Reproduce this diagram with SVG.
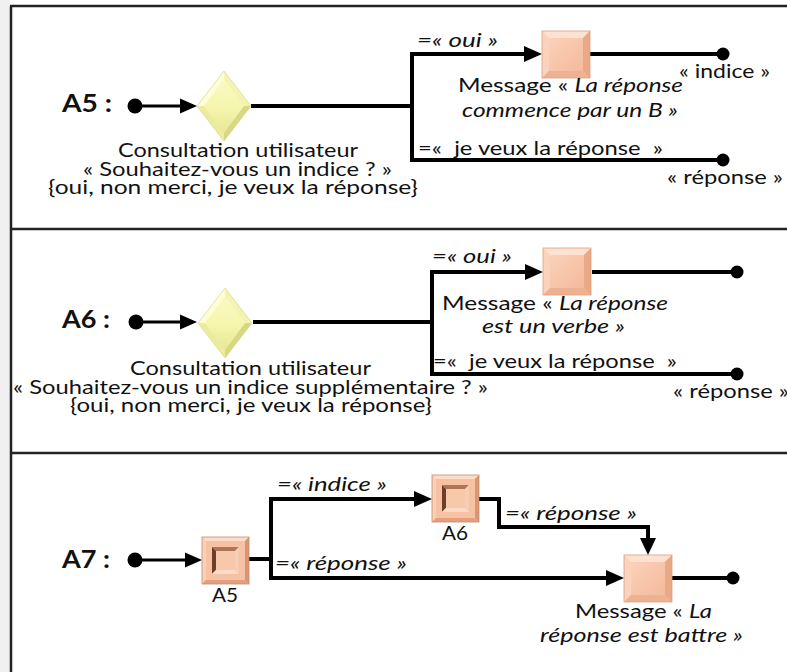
<svg xmlns="http://www.w3.org/2000/svg" width="787" height="672" viewBox="0 0 787 672">
<defs>
<linearGradient id="dg" x1="0" y1="0" x2="0" y2="1">
<stop offset="0" stop-color="#fbfbc6"/><stop offset="0.5" stop-color="#f6f6b0"/><stop offset="1" stop-color="#e4e48e"/>
</linearGradient>
<linearGradient id="pg" x1="0" y1="0" x2="1" y2="1">
<stop offset="0" stop-color="#fcd6c0"/><stop offset="1" stop-color="#f3b594"/>
</linearGradient>
<g id="diamond">
<polygon points="0,-35 27,0 0,35 -27,0" fill="url(#dg)"/>
<polygon points="0,-35 -27,0 -20,0 0,-27" fill="#fdfdd8"/>
<polygon points="0,-35 27,0 20,0 0,-27" fill="#f3f3b4"/>
<polygon points="-27,0 0,35 0,27 -20,0" fill="#ecec9e"/>
<polygon points="27,0 0,35 0,27 20,0" fill="#d8d884"/>
<polygon points="0,-35 27,0 0,35 -27,0" fill="none" stroke="#dcdc98" stroke-width="0.8"/>
</g>
<g id="msg">
<rect x="0" y="0" width="48" height="47" fill="url(#pg)"/>
<polygon points="0,0 48,0 41,7 7,7" fill="#fde2d2"/>
<polygon points="0,0 7,7 7,40 0,47" fill="#fbd3bc"/>
<polygon points="48,0 48,47 41,40 41,7" fill="#e9a987"/>
<polygon points="0,47 48,47 41,40 7,40" fill="#eeb293"/>
<rect x="0" y="0" width="48" height="47" fill="none" stroke="#dc9f80" stroke-width="0.8"/>
</g>
<g id="sub">
<rect x="0" y="0" width="47" height="47" fill="#f7c2a4"/>
<polygon points="0,0 47,0 43,4 4,4" fill="#fddcc8"/>
<polygon points="0,0 4,4 4,43 0,47" fill="#fad0b8"/>
<polygon points="47,0 47,47 43,43 43,4" fill="#d99575"/>
<polygon points="0,47 47,47 43,43 4,43" fill="#e3a07f"/>
<rect x="10" y="10" width="27" height="27" fill="#f5c0a2"/>
<polygon points="10,10 37,10 33,14 14,14" fill="#b07458"/>
<polygon points="10,10 14,14 14,33 10,37" fill="#6e3e28"/>
<polygon points="37,10 37,37 33,33 33,14" fill="#f7cdb4"/>
<polygon points="10,37 37,37 33,33 14,33" fill="#fbdac8"/>
<rect x="14" y="14" width="19" height="19" fill="#f8c8ab"/>
<rect x="0" y="0" width="47" height="47" fill="none" stroke="#c98b6c" stroke-width="0.8"/>
</g>
</defs>
<style>
.t{font-family:Lato,"Liberation Sans",sans-serif;font-size:20px;fill:#111;white-space:pre}
.i{font-style:italic}
.b{font-family:Lato,"Liberation Sans",sans-serif;font-size:24px;font-weight:bold;fill:#111}
.ln{fill:none;stroke:#000;stroke-width:4}
.ls{fill:none;stroke:#000;stroke-width:3}
</style>
<rect x="0" y="0" width="787" height="672" fill="#fff"/>
<rect x="0" y="0" width="10" height="672" fill="#f0f0f0"/>
<g id="frame" stroke="#222" stroke-width="2.5">
<line x1="11" y1="6" x2="11" y2="672"/>
<line x1="10" y1="6" x2="787" y2="6"/>
<line x1="10" y1="229" x2="787" y2="229"/>
<line x1="10" y1="453" x2="787" y2="453"/>
</g>

<g id="connectors">
<!-- A5 -->
<path class="ls" d="M135,106 H184"/>
<polygon points="180,98.5 197,106 180,113.5"/>
<path class="ln" d="M251,106 H412"/>
<path class="ln" d="M526,54 H412 V160 H723"/>
<polygon points="524,46 542,54 524,62"/>
<path class="ln" d="M590,54 H723"/>
<circle cx="135" cy="106" r="7.5"/>
<circle cx="723" cy="54" r="6.5"/>
<circle cx="723" cy="160" r="6.5"/>
<!-- A6 -->
<path class="ls" d="M136,322 H184"/>
<polygon points="180,314.5 197,322 180,329.5"/>
<path class="ln" d="M253,322 H432"/>
<path class="ln" d="M527,272 H432 V374 H737"/>
<polygon points="525,264 543,272 525,280"/>
<path class="ln" d="M592,272 H737"/>
<circle cx="136" cy="322" r="7.5"/>
<circle cx="737" cy="272" r="6.5"/>
<circle cx="737" cy="374" r="6.5"/>
<!-- A7 -->
<path class="ls" d="M135,560 H189"/>
<polygon points="185,552.5 202,560 185,567.5"/>
<path class="ln" d="M249,559 H271"/>
<path class="ln" d="M416,499 H271 V578 H608"/>
<polygon points="414,491 432,499 414,507"/>
<polygon points="606,570 624,578 606,586"/>
<path class="ln" d="M479,499 H499 V527 H648 V540"/>
<polygon points="640,538 648,555 656,538"/>
<path class="ln" d="M672,578 H733"/>
<circle cx="135" cy="560" r="7.5"/>
<circle cx="733" cy="578" r="6.5"/>
</g>

<g id="A5">
<text class="b" x="62" y="112" textLength="50" lengthAdjust="spacingAndGlyphs">A5 :</text>
<g id="A5-decision">
<use href="#diamond" x="224" y="106"/>
<text class="t" x="118" y="157" textLength="240" lengthAdjust="spacingAndGlyphs">Consultation utilisateur</text>
<text class="t" x="83" y="176" textLength="309" lengthAdjust="spacingAndGlyphs">« Souhaitez-vous un indice ? »</text>
<text class="t" x="48" y="194" textLength="370" lengthAdjust="spacingAndGlyphs">{oui, non merci, je veux la réponse}</text>
</g>
<g id="A5-message">
<use href="#msg" x="542" y="31"/>
<text class="t" x="458" y="92" textLength="225" lengthAdjust="spacingAndGlyphs">Message « <tspan class="i">La réponse</tspan></text>
<text class="t i" x="462" y="117" textLength="216" lengthAdjust="spacingAndGlyphs">commence par un B »</text>
</g>
<text class="t i" x="417" y="47" textLength="81" lengthAdjust="spacingAndGlyphs">=« oui »</text>
<text class="t" x="418" y="155" textLength="245" lengthAdjust="spacingAndGlyphs" xml:space="preserve">=«  je veux la réponse  »</text>
<text class="t" x="679" y="78" textLength="91" lengthAdjust="spacingAndGlyphs">« indice »</text>
<text class="t" x="667" y="184" textLength="116" lengthAdjust="spacingAndGlyphs">« réponse »</text>
</g>

<g id="A6">
<text class="b" x="62" y="328" textLength="48" lengthAdjust="spacingAndGlyphs">A6 :</text>
<g id="A6-decision">
<use href="#diamond" x="225" y="323"/>
<text class="t" x="130" y="375" textLength="241" lengthAdjust="spacingAndGlyphs">Consultation utilisateur</text>
<text class="t" x="13" y="394" textLength="475" lengthAdjust="spacingAndGlyphs">« Souhaitez-vous un indice supplémentaire ? »</text>
<text class="t" x="70" y="412" textLength="362" lengthAdjust="spacingAndGlyphs">{oui, non merci, je veux la réponse}</text>
</g>
<g id="A6-message">
<use href="#msg" x="543" y="248"/>
<text class="t" x="442" y="310" textLength="226" lengthAdjust="spacingAndGlyphs">Message « <tspan class="i">La réponse</tspan></text>
<text class="t i" x="482" y="333" textLength="143" lengthAdjust="spacingAndGlyphs">est un verbe »</text>
</g>
<text class="t i" x="432" y="263" textLength="80" lengthAdjust="spacingAndGlyphs">=« oui »</text>
<text class="t" x="433" y="368" textLength="244" lengthAdjust="spacingAndGlyphs" xml:space="preserve">=«  je veux la réponse  »</text>
<text class="t" x="673" y="398" textLength="116" lengthAdjust="spacingAndGlyphs">« réponse »</text>
</g>

<g id="A7">
<text class="b" x="62" y="568" textLength="48" lengthAdjust="spacingAndGlyphs">A7 :</text>
<g id="A7-A5">
<use href="#sub" x="202" y="537"/>
<text class="t" x="212" y="602" textLength="26" lengthAdjust="spacingAndGlyphs">A5</text>
</g>
<g id="A7-A6">
<use href="#sub" x="432" y="475"/>
<text class="t" x="442" y="540" textLength="26" lengthAdjust="spacingAndGlyphs">A6</text>
</g>
<g id="A7-message">
<use href="#msg" x="624" y="555"/>
<text class="t" x="575" y="618" textLength="137" lengthAdjust="spacingAndGlyphs">Message « <tspan class="i">La</tspan></text>
<text class="t i" x="540" y="642" textLength="203" lengthAdjust="spacingAndGlyphs">réponse est battre »</text>
</g>
<text class="t i" x="277" y="491" textLength="110" lengthAdjust="spacingAndGlyphs">=« indice »</text>
<text class="t i" x="275" y="570" textLength="132" lengthAdjust="spacingAndGlyphs">=« réponse »</text>
<text class="t i" x="505" y="520" textLength="132" lengthAdjust="spacingAndGlyphs">=« réponse »</text>
</g>
</svg>
